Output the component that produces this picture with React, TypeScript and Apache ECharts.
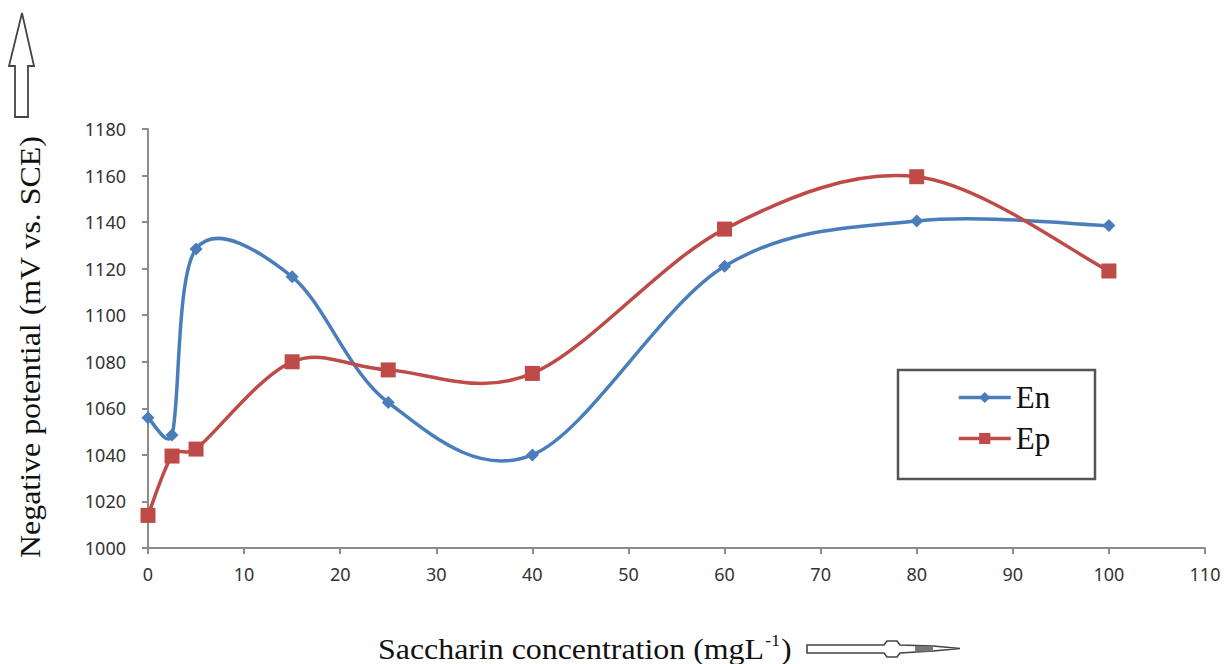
import React, { useEffect, useRef } from "react";
import * as echarts from "echarts";

const xValues = [0, 2.5, 5, 15, 25, 40, 60, 80, 100];
const enValues = [1056, 1048.5, 1128.5, 1116.5, 1062.5, 1040, 1121, 1140.5, 1138.5];
const epValues = [1014, 1039.5, 1042.5, 1080, 1076.5, 1075, 1137, 1159.5, 1119];
const seriesNames = ["En", "Ep"];
const seriesColors = ["#4a7ebb", "#be4b48"];
const yTitle = "Negative potential (mV vs. SCE)";
const xTitleMain = "Saccharin concentration (mgL";
const xTitleSup = "-1";

// Excel-like smoothed segment (Catmull-Rom style tangents, /6) drawn through api.coord
function makeCurveRenderer(ys: number[], color: string) {
  return (params: any, api: any) => {
    const i = params.dataIndex;
    if (i >= xValues.length - 1) return null;
    const pt = (k: number) => {
      const kk = Math.max(0, Math.min(xValues.length - 1, k));
      return api.coord([xValues[kk], ys[kk]]);
    };
    const p0 = pt(i - 1);
    const p1 = pt(i);
    const p2 = pt(i + 1);
    const p3 = pt(i + 2);
    const segLen = Math.hypot(p2[0] - p1[0], p2[1] - p1[1]);
    const clampVec = (vx: number, vy: number) => {
      const l = Math.hypot(vx, vy);
      const maxL = segLen * 0.5;
      if (l > maxL && l > 0) {
        return [(vx * maxL) / l, (vy * maxL) / l];
      }
      return [vx, vy];
    };
    const t1 = clampVec((p2[0] - p0[0]) / 6, (p2[1] - p0[1]) / 6);
    const t2 = clampVec((p3[0] - p1[0]) / 6, (p3[1] - p1[1]) / 6);
    return {
      type: "bezierCurve",
      shape: {
        x1: p1[0],
        y1: p1[1],
        cpx1: p1[0] + t1[0],
        cpy1: p1[1] + t1[1],
        cpx2: p2[0] - t2[0],
        cpy2: p2[1] - t2[1],
        x2: p2[0],
        y2: p2[1],
      },
      style: { stroke: color, lineWidth: 3.5, fill: null, lineCap: "round" },
    };
  };
}

export default function App() {
  const ref = useRef<HTMLDivElement>(null);
  useEffect(() => {
    if (!ref.current) return;
    const chart = echarts.init(ref.current, undefined, { renderer: "svg" });
    const pair = (ys: number[]) => xValues.map((x, i) => [x, ys[i]]);
    const tickStyle = { color: "#333", fontSize: 18, fontFamily: "Noto Sans" };
    const axisLine = { show: true, lineStyle: { color: "#8c8c8c", width: 2 } };
    const tick = { show: true, inside: false, length: 6, lineStyle: { color: "#8c8c8c", width: 2 } };
    chart.setOption({
      animation: false,
      backgroundColor: "#ffffff",
      grid: { left: 148, right: 20, top: 129, bottom: 116 },
      xAxis: {
        type: "value",
        min: 0,
        max: 110,
        interval: 10,
        axisLine,
        axisTick: tick,
        axisLabel: { ...tickStyle, margin: 17 },
        splitLine: { show: false },
      },
      yAxis: {
        type: "value",
        min: 1000,
        max: 1180,
        interval: 20,
        axisLine,
        axisTick: tick,
        axisLabel: { ...tickStyle, margin: 22, formatter: (v: number) => String(v) },
        splitLine: { show: false },
      },
      legend: {
        left: 952,
        top: 377,
        orient: "vertical",
        itemWidth: 52,
        itemHeight: 14,
        itemGap: 10,
        data: seriesNames.map((n, i) => ({
          name: n,
          lineStyle: { opacity: 1, width: 3.5, color: seriesColors[i] },
        })),
        textStyle: { fontFamily: "Liberation Serif", fontSize: 31, color: "#111" },
      },
      series: [
        {
          name: "En curve",
          type: "custom",
          data: pair(enValues),
          renderItem: makeCurveRenderer(enValues, seriesColors[0]),
          z: 1,
          silent: true,
        },
        {
          name: "Ep curve",
          type: "custom",
          data: pair(epValues),
          renderItem: makeCurveRenderer(epValues, seriesColors[1]),
          z: 1,
          silent: true,
        },
        {
          name: seriesNames[0],
          type: "line",
          data: pair(enValues),
          symbol: "diamond",
          symbolSize: 13,
          itemStyle: { color: seriesColors[0] },
          lineStyle: { color: seriesColors[0], width: 3.5, opacity: 0 },
          z: 3,
        },
        {
          name: seriesNames[1],
          type: "line",
          data: pair(epValues),
          symbol: "rect",
          symbolSize: 15,
          itemStyle: { color: seriesColors[1] },
          lineStyle: { color: seriesColors[1], width: 3.5, opacity: 0 },
          z: 3,
        },
      ],
      graphic: [
        {
          type: "rect",
          shape: { x: 898, y: 370, width: 197, height: 109 },
          style: { fill: "none", stroke: "#555", lineWidth: 2.5 },
          z: 10,
        },
        {
          type: "text",
          x: 30,
          y: 347,
          rotation: Math.PI / 2,
          scaleX: 1.1,
          style: {
            text: yTitle,
            fontFamily: "Liberation Serif",
            fontSize: 29,
            fill: "#111",
            align: "center",
            verticalAlign: "middle",
          },
        },
        {
          type: "text",
          x: 378,
          y: 649,
          scaleX: 1.1,
          style: {
            text: "{a|" + xTitleMain + "}{s|" + xTitleSup + "}{a|)}",
            verticalAlign: "middle",
            rich: {
              a: { fontFamily: "Liberation Serif", fontSize: 29, fill: "#111", lineHeight: 32 },
              s: { fontFamily: "Liberation Serif", fontSize: 16, fill: "#111", verticalAlign: "top", lineHeight: 32, padding: [0, 1, 10, 1] },
            },
          },
        },
        {
          type: "polygon",
          shape: {
            points: [
              [15, 117], [28, 117], [28, 66], [34, 66], [22, 13], [9, 66], [15, 66],
            ],
          },
          style: { fill: "#fff", stroke: "#444", lineWidth: 1.8 },
        },
        {
          type: "polygon",
          shape: {
            points: [
              [807, 645], [884, 645], [887, 641], [897, 641], [900, 645], [933, 646], [960, 648.5],
              [933, 651], [900, 653], [897, 657], [887, 657], [884, 653], [807, 653],
            ],
          },
          style: { fill: "#fff", stroke: "#444", lineWidth: 1.6 },
        },
        {
          type: "rect",
          shape: { x: 915, y: 646, width: 18, height: 5.5 },
          style: { fill: "#777" },
        },
      ],
    });
    return () => chart.dispose();
  }, []);
  return (
    <div
      ref={ref}
      style={{ position: "fixed", left: 0, top: 0, width: 1225, height: 664 }}
    />
  );
}
